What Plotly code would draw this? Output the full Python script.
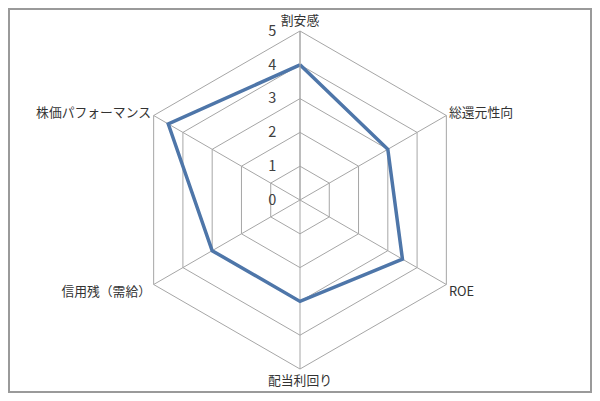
import plotly.graph_objects as go

# axes of the radar (clockwise from top)
categories = ["割安感", "総還元性向", "ROE", "配当利回り", "信用残（需給）", "株価パフォーマンス"]
scores = [4, 3, 3.5, 3, 3, 4.5]
radial_ticks = [0, 1, 2, 3, 4, 5]

grid_col = "#a6a6a6"
line_col = "#4e76a9"

# page body has an 8px margin; keep figure small enough to avoid scrollbars
W, H = 584, 385
L, R, T, B = 72, 72, 23, 24
pw, ph = W - L - R, H - T - B

def px_x(px):
    return (px - L) / pw

def px_y(py):
    return (H - B - py) / ph

fig = go.Figure()

fig.add_trace(go.Scatterpolar(
    r=scores + scores[:1],
    theta=categories + categories[:1],
    mode="lines",
    line=dict(color=line_col, width=3.5),
    hoverinfo="skip",
    showlegend=False
))

fig.update_layout(
    width=W,
    height=H,
    margin=dict(l=L, r=R, t=T, b=B),
    paper_bgcolor="white",
    font=dict(family="Noto Sans CJK JP", size=13, color="#333333"),
    polar=dict(
        bgcolor="white",
        gridshape="linear",
        angularaxis=dict(
            rotation=90,
            direction="clockwise",
            showline=True,
            linecolor=grid_col,
            linewidth=1,
            gridcolor=grid_col,
            gridwidth=1,
            ticks="",
            tickfont=dict(size=12.8, color="#333333")
        ),
        radialaxis=dict(
            range=[0, 5],
            tickvals=radial_ticks,
            angle=90,
            tickangle=90,
            side="counterclockwise",
            showline=True,
            linecolor=grid_col,
            linewidth=1,
            gridcolor=grid_col,
            gridwidth=1,
            ticks="outside",
            ticklen=18,
            tickcolor="rgba(0,0,0,0)",
            tickfont=dict(size=14.5, color="#404040")
        )
    ),
    # outer frame
    shapes=[dict(
        type="rect", xref="paper", yref="paper",
        x0=px_x(1), x1=px_x(W - 1),
        y0=px_y(H - 1), y1=px_y(1),
        line=dict(color="#9a9a9a", width=2)
    )]
)

fig.write_html("out.html")
